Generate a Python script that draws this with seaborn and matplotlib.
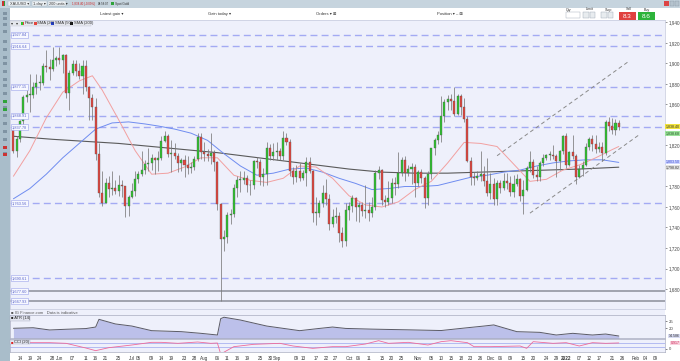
import numpy as np
import pandas as pd
import matplotlib
matplotlib.use("Agg")
import matplotlib.pyplot as plt
from matplotlib.patches import Rectangle
import seaborn as sns

sns.set_theme(style="white")
plt.rcParams['font.family'] = ['Liberation Sans', 'DejaVu Sans']

# ---------------- data (XAU/USD daily) ----------------
start_date = "2021-05-12"
end_date = "2022-01-25"
anchor_date = "2021-05-14"

opens = [1836,1815,1826,1844,1867,1869,1869,1877,1881,1881,1898,1897,1895,1903,
         1905,1903,1908,1871,1891,1899,1893,1888,1898,1877,1866,1858,1812,1774,1764,1783,1778,1779,1776,1781,1780,1761,
         1770,1776,1787,1792,1796,1802,1803,1808,1806,1808,1824,1829,1812,1813,1810,1803,1806,1801,1798,1799,1807,1828,
         1814,1812,1810,1813,1804,1763,1729,1731,1752,1753,1779,1786,1786,1788,1781,1781,1805,1804,1789,1792,1818,1810,
         1814,1815,1810,1827,1823,1795,1789,1795,1788,1793,1804,1795,1754,1754,1764,1774,1768,1743,1750,1751,1735,1727,
         1757,1761,1769,1760,1762,1756,1757,1754,1760,1793,1796,1767,1765,1769,1783,1782,1793,1806,1793,1797,1799,
         1783,1794,1788,1769,1792,1818,1825,1830,1849,1862,1865,1863,1851,1868,1858,1846,1805,1789,1788,1790,1792,1785,
         1774,1782,1768,1783,1779,1785,1783,1775,1782,1787,1771,1777,1798,1804,1791,1789,1803,1808,1811,1811,1810,1805,1815,
         1829,1801,1814,1810,1789,1797,1801,1819,1826,1821,1817,1819,1813,1843,1839,1835,1842]
highs = [1838,1829,1845,1869,1874,1890,1882,1890,1889,1900,1913,1904,1916,1907,
         1916,1909,1909,1894,1903,1903,1900,1903,1903,1878,1870,1866,1822,1795,1788,1790,1795,1786,1791,1786,1780,1772,
         1783,1795,1795,1815,1806,1818,1812,1809,1815,1829,1834,1831,1825,1822,1813,1808,1811,1810,1804,1810,1832,1832,
         1823,1817,1832,1816,1805,1764,1738,1755,1758,1782,1790,1795,1795,1791,1786,1806,1809,1807,1798,1823,1821,1822,
         1823,1818,1834,1832,1826,1799,1801,1803,1796,1809,1809,1796,1770,1767,1781,1787,1773,1758,1760,1755,1740,1764,
         1765,1772,1770,1765,1765,1781,1765,1770,1796,1800,1797,1772,1785,1788,1789,1814,1809,1810,1801,1803,1802,
         1796,1797,1790,1795,1818,1827,1834,1868,1865,1869,1870,1877,1870,1870,1866,1849,1809,1794,1795,1815,1800,1808,
         1793,1788,1786,1786,1793,1793,1790,1791,1792,1788,1786,1800,1815,1807,1800,1805,1812,1812,1815,1820,1812,1816,1830,
         1832,1815,1830,1812,1801,1805,1822,1828,1830,1830,1823,1823,1845,1848,1847,1846,1845]
lows = [1813,1809,1823,1840,1862,1853,1866,1870,1874,1879,1892,1884,1893,1898,
        1899,1891,1866,1855,1889,1888,1885,1870,1873,1845,1845,1806,1770,1761,1764,1770,1772,1773,1771,1770,1750,1751,
        1769,1771,1783,1790,1792,1795,1796,1792,1795,1806,1823,1809,1794,1807,1794,1795,1789,1792,1793,1796,1805,1807,
        1805,1805,1802,1795,1757,1668,1717,1725,1743,1750,1770,1775,1782,1775,1772,1778,1798,1781,1780,1781,1806,1806,
        1806,1806,1806,1820,1790,1782,1784,1785,1786,1780,1793,1745,1742,1750,1760,1762,1738,1740,1744,1726,1721,1722,
        1747,1755,1746,1745,1751,1749,1746,1750,1757,1787,1762,1760,1762,1764,1772,1779,1790,1785,1790,1782,1770,
        1780,1783,1759,1762,1787,1811,1821,1823,1843,1855,1855,1849,1850,1850,1843,1804,1781,1781,1786,1785,1780,1771,
        1768,1762,1762,1774,1777,1778,1771,1770,1780,1766,1753,1776,1794,1788,1785,1785,1800,1806,1806,1807,1789,1796,1812,
        1798,1800,1807,1782,1788,1790,1800,1816,1815,1813,1814,1805,1811,1834,1831,1830,1835]
closes = [1815,1826,1844,1867,1869,1869,1877,1881,1881,1898,1897,1895,1903,1905,
          1903,1908,1871,1891,1899,1893,1888,1898,1877,1866,1858,1812,1774,1764,1783,1778,1779,1776,1781,1780,1761,1770,
          1776,1787,1792,1796,1802,1803,1808,1806,1808,1824,1829,1812,1813,1810,1803,1806,1801,1798,1799,1807,1828,1814,
          1812,1810,1813,1804,1763,1729,1731,1752,1753,1779,1786,1786,1788,1781,1781,1805,1804,1789,1792,1818,1810,1814,
          1815,1810,1827,1823,1795,1789,1795,1788,1793,1804,1795,1754,1754,1764,1774,1768,1743,1750,1751,1735,1727,1757,
          1761,1769,1760,1762,1756,1757,1754,1760,1793,1796,1767,1765,1769,1783,1782,1793,1806,1793,1797,1799,1783,
          1794,1788,1769,1792,1818,1825,1830,1849,1862,1865,1863,1851,1868,1858,1846,1805,1789,1788,1790,1792,1785,1774,
          1782,1768,1783,1779,1785,1783,1775,1782,1787,1771,1777,1798,1804,1791,1789,1803,1808,1811,1811,1810,1805,1815,1829,
          1801,1814,1810,1789,1797,1801,1819,1826,1821,1817,1819,1813,1843,1839,1835,1842,1838.4]

# moving averages (bar offset from 14 May 2021, value)
sma20_idx = [-2, 3, 8, 13, 18, 22, 25, 30, 35, 40, 45, 50, 55, 60, 65, 70, 75, 80, 85, 90, 95, 100,
             105, 110, 115, 120, 125, 130, 135, 140, 145, 150, 155, 160, 165, 170, 175, 180, 182]
sma20_val = [1790, 1815, 1847, 1872, 1883, 1888, 1874, 1845, 1815, 1792, 1793, 1799, 1808, 1808, 1791,
             1786, 1784, 1788, 1800, 1799, 1788, 1771, 1762, 1760, 1765, 1777, 1785, 1803, 1823, 1822,
             1819, 1802, 1785, 1787, 1796, 1801, 1808, 1816, 1819]
sma50_idx = [-2, 3, 8, 13, 18, 23, 28, 33, 38, 42, 47, 52, 57, 62, 67, 72, 77, 82, 87, 92, 97, 102,
             107, 112, 117, 122, 127, 132, 137, 142, 147, 152, 157, 162, 167, 172, 177, 182]
sma50_val = [1768, 1778, 1792, 1808, 1822, 1836, 1842, 1843, 1841, 1839, 1836, 1832, 1825, 1812, 1800,
             1791, 1793, 1797, 1798, 1794, 1788, 1783, 1777, 1778, 1780, 1780, 1781, 1785, 1789, 1791,
             1794, 1796, 1800, 1803, 1805, 1806, 1806, 1803.5]
sma200_idx = [-2, 10, 20, 30, 40, 50, 60, 70, 80, 90, 100, 110, 120, 130, 140, 150, 160, 170, 182]
sma200_val = [1829, 1826, 1824, 1822, 1819, 1816, 1813, 1809, 1805, 1801, 1797, 1794, 1793, 1793,
              1794, 1795, 1796, 1797, 1798.82]

# horizontal levels
level_vals = [1927.84, 1916.64, 1877.15, 1848.91, 1837.78, 1763.56, 1690.61]
level_labels = ["1,927.84", "1,916.64", "1,877.15", "1,848.91", "1,837.78", "1,763.56", "1,690.61"]
solid_vals = [1677.6, 1667.9]
solid_labels = ["1,677.60", "1,667.93"]

# trend channel (bar offset, price)
chan_upper_idx = [145, 185]
chan_upper_val = [1810, 1902]
chan_lower_idx = [155, 188]
chan_lower_val = [1754, 1830]

# ATR(14)
atr_idx = [-2, 4, 9, 14, 20, 23, 24, 29, 34, 40, 49, 55, 60, 61, 62, 67, 75, 85, 91, 95, 99, 107,
           118, 128, 136, 141, 144, 151, 158, 163, 168, 174, 178, 182]
atr_val = [20.1, 20.5, 18.9, 19.4, 19.9, 21.0, 26.5, 23.2, 21.7, 18.4, 17.7, 16.5, 15.3, 27.0, 28.0,
           26.0, 21.7, 18.4, 20.0, 21.0, 20.0, 19.5, 19.0, 18.5, 20.5, 21.7, 22.5, 17.7, 17.2, 15.3,
           16.5, 15.3, 16.0, 14.586]

# lower oscillator
osc_idx = [-2, 9, 14, 20, 23, 27, 34, 40, 43, 48, 54, 58, 60, 61, 65, 71, 79, 83, 89, 95, 99, 105,
           109, 112, 118, 124, 128, 131, 136, 138, 143, 152, 154, 156, 162, 166, 170, 174, 178, 182]
osc_val = [1.0, 1.0, 0.8, -0.6, -1.4, -0.5, 0.3, 1.1, 1.1, 0.8, 1.2, 0.8, 0.9, -2.4, -0.2, 0.5, 0.8,
           0.0, -0.7, -0.2, -0.2, 0.6, 1.6, 0.8, 1.1, 0.3, 1.3, 1.6, 1.0, -0.2, -0.2, 0.0, -0.7, 1.3,
           0.8, 1.0, 0.0, 1.0, 0.8, 0.92]

tick_dates = ["2021-05-14", "2021-05-19", "2021-05-24", "2021-05-28", "2021-06-01", "2021-06-07",
              "2021-06-11", "2021-06-16", "2021-06-21", "2021-06-25", "2021-07-01", "2021-07-05",
              "2021-07-09", "2021-07-14", "2021-07-19", "2021-07-23", "2021-07-28", "2021-08-02",
              "2021-08-06", "2021-08-11", "2021-08-16", "2021-08-19", "2021-08-25", "2021-08-30",
              "2021-09-01", "2021-09-09", "2021-09-13", "2021-09-17", "2021-09-22", "2021-09-27",
              "2021-10-01", "2021-10-06", "2021-10-11", "2021-10-15", "2021-10-20", "2021-10-25",
              "2021-11-01", "2021-11-05", "2021-11-10", "2021-11-15", "2021-11-18", "2021-11-23",
              "2021-11-26", "2021-12-01", "2021-12-06", "2021-12-09", "2021-12-15", "2021-12-20",
              "2021-12-24", "2021-12-29", "2022-01-03", "2022-01-07", "2022-01-12", "2022-01-17",
              "2022-01-21", "2022-01-26", "2022-02-01", "2022-02-04", "2022-02-09"]
tick_labels = ["14", "19", "24", "28", "Jun", "07", "11", "16", "21", "25", "Jul", "05", "09", "14",
               "19", "23", "28", "Aug", "06", "11", "16", "19", "25", "30", "Sep", "09", "13", "17",
               "22", "27", "Oct", "06", "11", "15", "20", "25", "Nov", "05", "10", "15", "18", "23",
               "26", "Dec", "06", "09", "15", "20", "24", "29", "2022", "07", "12", "17", "21", "26",
               "Feb", "04", "09"]

y_ticks = list(range(1680, 1941, 20))
y_hidden = [1800, 1840]          # covered by the highlighted price tags

# ---------------- layout helpers ----------------
W, H = 680, 361
fig = plt.figure(figsize=(6.8, 3.61), dpi=100)
fig.patch.set_facecolor('white')


def fx(x):
    return x / W


def fy(y):
    return 1 - y / H


def prect(x0, y0, w, h, **kw):
    fig.add_artist(Rectangle((fx(x0), fy(y0 + h)), w / W, h / H, transform=fig.transFigure, **kw))


def ptext(x, y, s, **kw):
    kw.setdefault('va', 'center')
    kw.setdefault('fontsize', 3.4)
    kw.setdefault('color', '#333333')
    fig.text(fx(x), fy(y), s, **kw)


def add_ax(x0, y0, x1, y1):
    return fig.add_axes([fx(x0), fy(y1), (x1 - x0) / W, (y1 - y0) / H])


BG = '#eef0fb'
PX0, PXS = 20.0, 3.29
XL = ((10 - PX0) / PXS, (665 - PX0) / PXS)
RIGHT_TAG_X = (679.5 - 10) / 655.0   # axes fraction of the figure's right edge

dates = pd.bdate_range(start_date, end_date)
d64 = dates.values.astype('datetime64[D]')
pos = np.busday_count(np.datetime64(anchor_date), d64).astype(float)
o = np.array(opens, float)
h = np.array(highs, float)
l = np.array(lows, float)
c = np.array(closes, float)
tick_pos = np.busday_count(np.datetime64(anchor_date),
                           np.array(tick_dates, dtype='datetime64[D]'))

# background panel behind all chart areas
prect(10, 20, 655, 332, facecolor=BG, edgecolor='none', zorder=0)

# ---------------- main price axes ----------------
ax = add_ax(10, 20, 665, 309)
ax.set_facecolor(BG)
ax.set_xlim(*XL)
ax.set_ylim(1660.5, 1942.4)

for v in level_vals:
    ax.axhline(v, color='#a3aaf3', lw=1.0, dashes=(5, 3), zorder=1)
for v in solid_vals:
    ax.axhline(v, color='#9a9ea8', lw=1.3, zorder=1)

sns.lineplot(x=sma200_idx, y=sma200_val, ax=ax, color='#5a5a5a', lw=0.8, estimator=None, sort=False, zorder=2)
sns.lineplot(x=sma50_idx, y=sma50_val, ax=ax, color='#6f8cf0', lw=0.7, estimator=None, sort=False, zorder=2)
sns.lineplot(x=sma20_idx, y=sma20_val, ax=ax, color='#f2a0a0', lw=0.7, estimator=None, sort=False, zorder=2)

ax.plot(chan_upper_idx, chan_upper_val, color='#8a8a8a', lw=0.7, dashes=(4, 3), zorder=2)
ax.plot(chan_lower_idx, chan_lower_val, color='#8a8a8a', lw=0.7, dashes=(4, 3), zorder=2)

up = c >= o
ax.vlines(pos, l, h, color='#7a7a7a', lw=0.55, zorder=3)
ax.bar(pos, np.maximum(np.abs(c - o), 0.9), bottom=np.minimum(o, c), width=0.62,
       color=np.where(up, '#2fc52f', '#e4463e'), edgecolor='#505050', linewidth=0.25, zorder=4)

ax.yaxis.tick_right()
ax.set_yticks(y_ticks)
ax.set_yticklabels(["" if t in y_hidden else f"{t:,}" for t in y_ticks], fontsize=3.3, color='#444444')
ax.tick_params(axis='y', length=1.5, width=0.4, pad=1.5, colors='#444444')
ax.set_xticks([])
ax.set_xlabel('')
ax.set_ylabel('')
for s in ax.spines.values():
    s.set_color('#c4c8dc')
    s.set_linewidth(0.5)

ytr = ax.get_yaxis_transform()
for v, s in zip(level_vals + solid_vals, level_labels + solid_labels):
    ax.text(0.003, v, s, transform=ytr, fontsize=2.8, color='#5560c8', va='center', ha='left',
            bbox=dict(boxstyle='square,pad=0.25', fc='#f7f8ff', ec='#9aa2ea', lw=0.4), zorder=6)

for v, s, fc, tc in [(1838.4, "1,838.40", '#f1e23c', '#333333'), (1832.0, "1,838.68", '#9be39b', '#225522'),
                     (1804.0, "1,803.50", '#cfd6ff', '#3344cc'), (1798.3, "1,798.82", '#e3e3e3', '#333333')]:
    ax.text(RIGHT_TAG_X, v, s, transform=ytr, fontsize=2.6, color=tc, va='center', ha='right',
            bbox=dict(boxstyle='square,pad=0.1', fc=fc, ec='none'), clip_on=False, zorder=7)

# ---------------- ATR panel ----------------
ax2 = add_ax(10, 315, 665, 338)
ax2.set_facecolor(BG)
ax2.set_xlim(*XL)
ax2.set_ylim(13.16, 29.6)
ax2.fill_between(atr_idx, 0, atr_val, color='#bcc0ea', lw=0)
sns.lineplot(x=atr_idx, y=atr_val, ax=ax2, color='#5a5a66', lw=0.7, estimator=None, sort=False)
ax2.yaxis.tick_right()
ax2.set_yticks([20, 25])
ax2.set_yticklabels(["20", "25"], fontsize=3.2, color='#444444')
ax2.tick_params(axis='y', length=1.5, width=0.4, pad=1.5)
ax2.set_xticks([])
ax2.set_xlabel('')
ax2.set_ylabel('')
ax2.text(RIGHT_TAG_X, 14.586, "14.586", transform=ax2.get_yaxis_transform(), fontsize=2.6, va='center',
         ha='right', color='#333333', bbox=dict(boxstyle='square,pad=0.1', fc='#d9dcf3', ec='none'),
         clip_on=False)
for s in ax2.spines.values():
    s.set_color('#a8acc0')
    s.set_linewidth(0.5)

# ---------------- oscillator panel ----------------
ax3 = add_ax(10, 339, 665, 352)
ax3.set_facecolor(BG)
ax3.set_xlim(*XL)
ax3.set_ylim(-1.8, 2.1)
ax3.axhline(1.0, color='#a9b3f0', lw=0.6)
ax3.axhline(-0.3, color='#a9b3f0', lw=0.6)
sns.lineplot(x=osc_idx, y=osc_val, ax=ax3, color='#ee6a9a', lw=0.6, estimator=None, sort=False)
ax3.yaxis.tick_right()
ax3.set_yticks([-0.9])
ax3.set_yticklabels(["0"], fontsize=3.0, color='#444444')
ax3.tick_params(axis='y', length=1.5, width=0.4, pad=1.5)
ax3.text(RIGHT_TAG_X, 0.92, "0.917", transform=ax3.get_yaxis_transform(), fontsize=2.6, va='center',
         ha='right', color='#cc2255', bbox=dict(boxstyle='square,pad=0.1', fc='#f9d3df', ec='none'),
         clip_on=False)
ax3.set_xticks(tick_pos)
ax3.set_xticklabels(tick_labels, fontsize=3.3, color='#333333')
for t in ax3.get_xticklabels():
    if t.get_text() == '2022':
        t.set_fontweight('bold')
ax3.tick_params(axis='x', length=1.5, width=0.4, pad=1.2)
ax3.set_xlabel('')
ax3.set_ylabel('')
for s in ax3.spines.values():
    s.set_color('#a8acc0')
    s.set_linewidth(0.5)

# panel labels
ptext(11, 313.5, "\u25a0 IG Finance.com   Data is indicative", fontsize=3.0, color='#555555')
prect(10, 316, 20, 4.5, facecolor='#e3e5f0', edgecolor='#a8acc0', lw=0.3, zorder=5)
ptext(11, 318.3, "\u25a0 ATR (14)", fontsize=2.9, color='#222222', zorder=6)
prect(10, 339.5, 20, 4.5, facecolor='#e3e5f0', edgecolor='#a8acc0', lw=0.3, zorder=5)
ptext(11, 341.8, "\u25a0", fontsize=2.9, color='#e02020', zorder=6)
ptext(14, 341.8, "CCI (20)", fontsize=2.9, color='#222222', zorder=6)

# ---------------- header / chrome ----------------
prect(0, 0, 680, 7.5, facecolor='#c6d4de', edgecolor='none')
prect(0, 7.5, 680, 12.5, facecolor='#ffffff', edgecolor='none')
prect(0, 19.6, 680, 0.5, facecolor='#d8dde6', edgecolor='none')
prect(0, 7.5, 9.5, 353.5, facecolor='#a9bdca', edgecolor='none')
for yy in [12, 17, 23, 30, 40, 48, 56, 62, 70, 78, 84, 92, 100, 106, 114, 122, 130, 138, 146, 152]:
    prect(2.5, yy, 4.5, 3.2, facecolor='#7f93a3', edgecolor='none')
for yy, col in [(100, '#2fa33a'), (108, '#2fa33a'), (146, '#cc3333'), (153, '#cc3333')]:
    prect(2.5, yy, 4.5, 3.2, facecolor=col, edgecolor='none')

prect(1.5, 1.5, 2, 4, facecolor='#cc3333', edgecolor='none')
prect(3.5, 1.5, 2, 4, facecolor='#2fa33a', edgecolor='none')
for x0, w, s in [(8, 22, "XAUUSD \u25be"), (31.5, 15, "1-day \u25be"), (47.5, 18, "200 units \u25be")]:
    prect(x0, 1.2, w, 5, facecolor='#eef2f5', edgecolor='#9fb0bd', lw=0.3)
    ptext(x0 + 1.5, 3.8, s, fontsize=2.8)
ptext(71.5, 3.8, "1,838.40 (-0.09%)", fontsize=2.1, color='#cc2222')
ptext(97.5, 3.8, "08:58:07", fontsize=2.1, color='#333333')
prect(111, 2, 2.8, 3.2, facecolor='#2fa33a', edgecolor='none')
ptext(115, 3.8, "Spot Gold", fontsize=2.3, color='#333333')

ptext(100, 14, "Latest gain \u25be", fontsize=3.0)
ptext(208, 14, "Gain today \u25be", fontsize=3.0)
ptext(316, 14, "Orders \u25be \u229e", fontsize=3.0)
ptext(437, 14, "Position \u25be \u2013 \u229e", fontsize=3.0)

ptext(566, 9.5, "Qty", fontsize=2.6)
prect(566, 11.5, 14, 6, facecolor='#ffffff', edgecolor='#9aa6b2', lw=0.3)
ptext(586, 9.5, "Limit", fontsize=2.6)
ptext(605, 9.5, "Stop", fontsize=2.6)
for x0 in [583, 589.5, 601, 607.5]:
    prect(x0, 12, 5.5, 5.5, facecolor='#e8ecef', edgecolor='#9aa6b2', lw=0.3)
ptext(626, 9.5, "Sell", fontsize=2.6)
prect(619, 12, 17, 8, facecolor='#e0413f', edgecolor='none')
ptext(627.5, 16, "8.3", fontsize=4.6, color='white', ha='center')
ptext(644, 9.5, "Buy", fontsize=2.6)
prect(638, 12, 17, 8, facecolor='#2db33a', edgecolor='none')
ptext(646.5, 16, "8.6", fontsize=4.6, color='white', ha='center')
prect(664, 1, 5, 5, facecolor='#d44', edgecolor='none')
prect(670, 1, 4, 5, facecolor='#b5c3ce', edgecolor='#8a98a5', lw=0.3)
prect(675, 1, 4, 5, facecolor='#b5c3ce', edgecolor='#8a98a5', lw=0.3)

# legend strip
prect(9.5, 20.8, 81, 5.2, facecolor='#e5e7ee', edgecolor='#c0c4d0', lw=0.3, zorder=8)
ptext(11, 23.4, "\u25be", fontsize=3.0, zorder=9)
ptext(16, 23.4, "\u25be", fontsize=3.0, zorder=9)
prect(21, 21.8, 1.6, 3.3, facecolor='#2fc52f', edgecolor='none', zorder=9)
prect(22.6, 21.8, 1.6, 3.3, facecolor='#e4463e', edgecolor='none', zorder=9)
ptext(25, 23.4, "Price", fontsize=3.0, zorder=9)
prect(33.5, 21.8, 3, 3.3, facecolor='#e4463e', edgecolor='none', zorder=9)
ptext(37, 23.4, "SMA (20)", fontsize=3.0, zorder=9)
prect(51.5, 21.8, 3, 3.3, facecolor='#2040e0', edgecolor='none', zorder=9)
ptext(55, 23.4, "SMA (50)", fontsize=3.0, zorder=9)
prect(70, 21.8, 3, 3.3, facecolor='#111111', edgecolor='none', zorder=9)
ptext(73.5, 23.4, "SMA (200)", fontsize=3.0, zorder=9)

fig.savefig("out.png", dpi=100)
